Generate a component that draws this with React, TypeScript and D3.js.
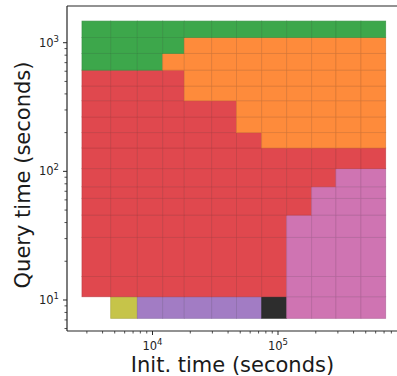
import * as d3 from 'd3';

// cell edges (seconds)
const initEdges = [2742, 4645, 7568, 12058, 17906, 29626, 46700, 74130, 117300, 185500, 289500, 458000, 721000];
const queryEdges = [7.2, 10.6, 15.2, 30.7, 45.7, 61.7, 75.9, 105, 152, 200, 265, 354, 460, 612, 826, 1099, 1472];

// best method per cell, one string per query row (lowest first), one char per init column
const cellRows = [
  '.YUUUUUKPPPP',
  'RRRRRRRRPPPP',
  'RRRRRRRRPPPP',
  'RRRRRRRRPPPP',
  'RRRRRRRRRPPP',
  'RRRRRRRRRPPP',
  'RRRRRRRRRRPP',
  'RRRRRRRRRRRR',
  'RRRRRRROOOOO',
  'RRRRRROOOOOO',
  'RRRRRROOOOOO',
  'RRRROOOOOOOO',
  'RRRROOOOOOOO',
  'GGGOOOOOOOOO',
  'GGGGOOOOOOOO',
  'GGGGGGGGGGGG',
];

const methodColors: Record<string, string> = {
  G: '#3da74b',
  O: '#fe8b3b',
  R: '#e0484e',
  P: '#cf74b2',
  U: '#a27cc4',
  Y: '#c6c449',
  K: '#2d2d2d',
};

const xTicks = [1e4, 1e5];
const yTicks = [1e1, 1e2, 1e3];

export default function App() {
  const W = 397;
  const H = 376;
  const x = d3.scaleLog().domain([2083, 955000]).range([67, 401]);
  const y = d3.scaleLog().domain([5.74, 1929]).range([331, 6]);

  const xMinor = [];
  for (let p = 3; p <= 5; p++) {
    for (let m = 2; m <= 9; m++) {
      const v = m * Math.pow(10, p);
      if (v >= 2083 && v <= 955000) xMinor.push(v);
    }
  }
  const yMinor = [];
  for (let p = 0; p <= 3; p++) {
    for (let m = 2; m <= 9; m++) {
      const v = m * Math.pow(10, p);
      if (v >= 5.74 && v <= 1929) yMinor.push(v);
    }
  }

  const cells = [];
  cellRows.forEach((row, ri) => {
    row.split('').forEach((k, ci) => {
      if (k === '.') return;
      cells.push({
        key: `${ri}-${ci}`,
        x0: x(initEdges[ci]),
        x1: x(initEdges[ci + 1]),
        y0: y(queryEdges[ri + 1]),
        y1: y(queryEdges[ri]),
        color: methodColors[k],
      });
    });
  });

  const font = 'DejaVu Sans, sans-serif';
  const axisColor = '#262626';

  return (
    <svg width={W} height={H} style={{ position: 'absolute', left: 0, top: 0, background: '#fff' }}>
      <g>
        {cells.map(c => (
          <rect
            key={c.key}
            x={c.x0}
            y={c.y0}
            width={c.x1 - c.x0}
            height={c.y1 - c.y0}
            fill={c.color}
            stroke={d3.color(c.color)!.darker(0.45).toString()}
            strokeOpacity={0.8}
            strokeWidth={0.8}
          />
        ))}
      </g>

      {/* spines */}
      <line x1={67} x2={67} y1={6} y2={331} stroke={axisColor} strokeWidth={1.2} />
      <line x1={67} x2={W} y1={331} y2={331} stroke={axisColor} strokeWidth={1.2} />
      <line x1={67} x2={W} y1={6} y2={6} stroke={axisColor} strokeWidth={1.2} />

      {/* y ticks */}
      {yMinor.map(v => (
        <line key={`ym${v}`} x1={67} x2={64.5} y1={y(v)} y2={y(v)} stroke={axisColor} strokeWidth={0.8} />
      ))}
      {yTicks.map((v, i) => (
        <g key={`y${v}`}>
          <line x1={67} x2={63} y1={y(v)} y2={y(v)} stroke={axisColor} strokeWidth={1} />
          <text x={59} y={y(v) + 4} textAnchor="end" fontFamily={font} fontSize={11.5} fill="#222">
            10<tspan dy={-5} fontSize={8.5}>{i + 1}</tspan>
          </text>
        </g>
      ))}

      {/* x ticks */}
      {xMinor.map(v => (
        <line key={`xm${v}`} x1={x(v)} x2={x(v)} y1={331} y2={333.5} stroke={axisColor} strokeWidth={0.8} />
      ))}
      {xTicks.map((v, i) => (
        <g key={`x${v}`}>
          <line x1={x(v)} x2={x(v)} y1={331} y2={335} stroke={axisColor} strokeWidth={1} />
          <text x={x(v)} y={350} textAnchor="middle" fontFamily={font} fontSize={11.5} fill="#222">
            10<tspan dy={-5} fontSize={8.5}>{i + 4}</tspan>
          </text>
        </g>
      ))}

      {/* axis labels */}
      <text x={232.5} y={372} textAnchor="middle" fontFamily={font} fontSize={21} fill="#1a1a1a">
        Init. time (seconds)
      </text>
      <text
        transform="translate(30,175) rotate(-90)"
        textAnchor="middle"
        fontFamily={font}
        fontSize={21}
        fill="#1a1a1a"
      >
        Query time (seconds)
      </text>
    </svg>
  );
}
